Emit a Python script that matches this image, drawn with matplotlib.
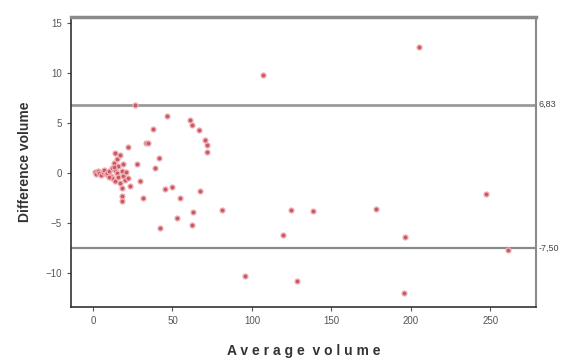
import matplotlib
matplotlib.use("Agg")
import matplotlib.pyplot as plt

plt.rcParams['font.family'] = ['Liberation Sans', 'DejaVu Sans']

# Data (average volume, difference volume)
avg_volume = [
    # dense cluster near origin
    1, 2, 3, 4, 5, 6, 7, 8, 9, 10, 11, 12, 12, 13, 14, 14, 15, 15, 16, 16,
    17, 17, 18, 18, 19, 19, 20, 21, 22, 23, 18, 18, 13, 10,
    # scattered low-volume points
    26.5, 22, 13.9, 27.7, 29.6, 31.5, 33.4, 34.5, 37.8, 39, 41.6, 42.2,
    45.4, 46.5, 49.8, 52.9, 54.8, 61, 62.4, 62.4, 63, 66.4, 67.4,
    70.6, 71.8, 71.8, 81.3,
    # high-volume points
    95.8, 107, 119.7, 124.8, 128.5, 138.6, 178, 196.6, 196, 205.4, 247.6, 261.5,
]
diff_volume = [
    0.1, -0.1, 0.2, 0.0, -0.2, 0.1, 0.3, -0.1, 0.0, 0.2, -0.3, 0.5, -0.5, 1.0, 0.3, -0.8, 1.4, 0.0, -0.4, 0.7,
    1.8, -1.0, 0.2, -1.5, -0.3, 0.9, -0.7, 0.1, -0.5, -1.3, -2.3, -2.8, 0.6, -0.4,
    6.8, 2.6, 2.0, 0.9, -0.8, -2.5, 3.0, 3.0, 4.4, 0.5, 1.5, -5.5,
    -1.6, 5.7, -1.4, -4.5, -2.5, 5.3, 4.8, -5.2, -3.9, 4.3, -1.8,
    3.3, 2.8, 2.1, -3.7,
    -10.3, 9.8, -6.2, -3.7, -10.8, -3.8, -3.6, -6.4, -12.0, 12.6, -2.1, -7.7,
]

upper_loa = 6.83
lower_loa = -7.50
upper_label = "6,83"
lower_label = "-7,50"

x_ticks = [0, 50, 100, 150, 200, 250]
y_ticks = [-10, -5, 0, 5, 10, 15]

fig = plt.figure(figsize=(5.68, 3.62), dpi=100)
ax = fig.add_axes([0.125, 0.152, 0.819, 0.801])

ax.scatter(avg_volume, diff_volume, s=13, color='#c85a66', edgecolors='#f0b0b5',
           linewidths=0.9, zorder=3)

ax.axhline(upper_loa, color='#9a9a9a', lw=2.0, zorder=2)
ax.axhline(lower_loa, color='#8a8a8a', lw=1.6, zorder=2)

ax.set_xlim(-13.9, 279)
ax.set_ylim(-13.4, 15.6)
ax.set_xticks(x_ticks)
ax.set_yticks(y_ticks)
ax.tick_params(axis='both', labelsize=7, colors='#555555', length=3, width=0.8)

for side in ['left', 'bottom']:
    ax.spines[side].set_color('#333333')
    ax.spines[side].set_linewidth(1.2)
ax.spines['top'].set_color('#8a8a8a')
ax.spines['top'].set_linewidth(2.5)
ax.spines['right'].set_color('#8a8a8a')
ax.spines['right'].set_linewidth(1.5)

ax.text(1.005, upper_loa, upper_label, transform=ax.get_yaxis_transform(),
        va='center', ha='left', fontsize=6.5, color='#444444')
ax.text(1.005, lower_loa, lower_label, transform=ax.get_yaxis_transform(),
        va='center', ha='left', fontsize=6.5, color='#444444')

ax.set_xlabel('A v e r a g e  v o l u m e', fontsize=10,
              fontweight='bold', color='#333333', labelpad=13)
ax.set_ylabel('Difference volume', fontsize=10, fontweight='bold',
              color='#333333', labelpad=10)

fig.savefig('out.png', dpi=100, facecolor='white')
